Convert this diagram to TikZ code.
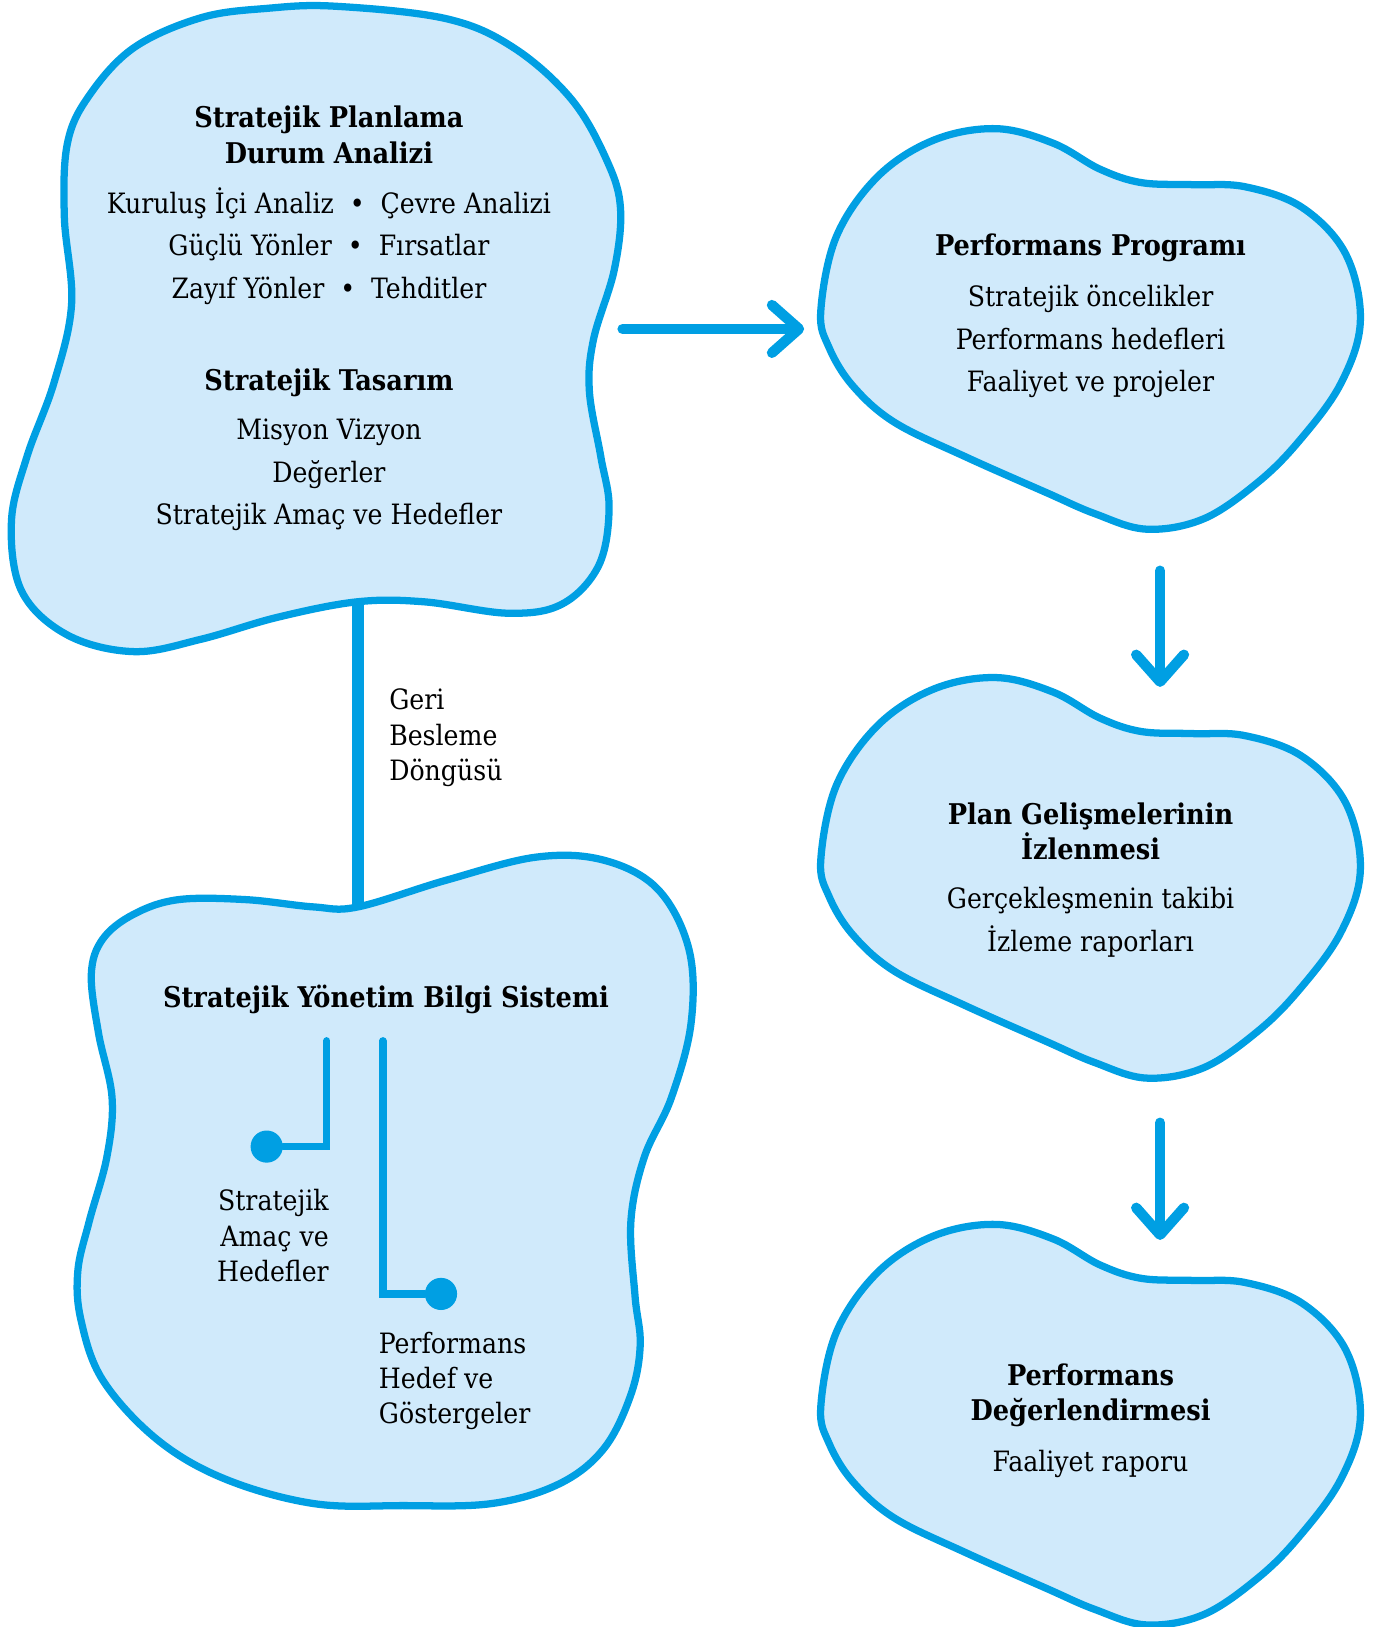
\documentclass[tikz,border=0pt]{standalone}
\usepackage{fontspec}
\setmainfont{DejaVu Serif Condensed}
\usetikzlibrary{arrows.meta}
\definecolor{blobline}{HTML}{009FE3}
\definecolor{blobfill}{HTML}{D0EAFB}
% heart shaped blob of the right column, #1 vertical offset
\newcommand*\heartblob[1]{%
    \draw[blob,shift={(0,#1)}] plot[smooth cycle,tension=0.6] coordinates {%
        (791,300) (806,228) (846,170) (900,135) (960,124) (1015,138)
        (1060,163) (1100,176) (1150,178) (1200,180) (1255,200) (1297,245)
        (1311,310) (1292,370) (1252,425) (1212,465) (1160,500) (1105,510)
        (1055,495) (1009,475) (930,440) (862,407) (822,372) (799,335)%
    };%
}

\begin{document}
\begin{tikzpicture}
    [%
        x=1pt,y=-1pt,%
        blob/.style={%
            draw=blobline,%
            fill=blobfill,%
            line width=7pt%
        },%
        blob title/.style={%
            font=\bfseries\fontsize{27.5}{34}\selectfont,%
            align=center%
        },%
        blob text/.style={%
            font=\fontsize{27}{41}\selectfont,%
            align=center%
        },%
        side text/.style={%
            font=\fontsize{27}{34}\selectfont,%
            inner sep=0pt%
        },%
        flow arrow/.style={%
            draw=blobline,%
            line width=10pt,%
            line cap=round,%
            -{Straight Barb[round,length=26pt,width=46pt]}%
        },%
        link line/.style={%
            draw=blobline,%
            line width=7pt,%
            line cap=round%
        },%
        link dot/.style={%
            circle,%
            fill=blobline,%
            minimum size=31pt,%
            inner sep=0pt%
        }%
    ]%
    \useasboundingbox (0,0) rectangle (1329,1568);
%
    % feedback loop, drawn first so the blobs cover its ends
    \coordinate (plan-south) at (345,560);
    \coordinate (sybs-north) at (345,890);
    \draw[blobline,line width=11pt] (plan-south) -- (sybs-north);
    \node[side text,anchor=west,align=left] (feedback) at (375,711)
        {Geri\\Besleme\\Döngüsü};
%
    % strategic planning blob
    \draw[blob] plot[smooth cycle,tension=0.6] coordinates {%
        (258,8) (323,6) (430,18) (495,46) (551,96) (585,155) (598,201)
        (592,260) (572,327) (568,377) (579,440) (587,490) (577,545)
        (542,582) (490,591) (409,580) (344,580) (267,595) (194,616)
        (129,628) (65,612) (21,570) (11,503) (26,440) (52,369) (69,293)
        (62,209) (65,138) (86,92) (129,46) (194,17)%
    };
    \node[blob title] (plan-title) at (317,130) {Stratejik Planlama\\Durum Analizi};
    \node[blob text] (plan-text) at (317,237)
        {Kuruluş İçi Analiz \ \textbullet\ \ Çevre Analizi\\
         Güçlü Yönler \ \textbullet\ \ Fırsatlar\\
         Zayıf Yönler \ \textbullet\ \ Tehditler};
    \node[blob title] (design-title) at (317,369) {Stratejik Tasarım};
    \node[blob text] (design-text) at (317,458)
        {Misyon Vizyon\\Değerler\\Stratejik Amaç ve Hedefler};
%
    % strategic management information system blob
    \draw[blob] plot[smooth cycle,tension=0.6] coordinates {%
        (99,905) (129,881) (172,867) (237,867) (302,874) (345,874)
        (431,848) (517,826) (582,829) (634,857) (664,915) (666,986)
        (647,1058) (621,1115) (608,1177) (612,1249) (617,1296) (608,1344)
        (582,1396) (539,1430) (474,1449) (388,1451) (302,1449) (216,1425)
        (151,1387) (99,1330) (78,1272) (75,1225) (86,1177) (103,1115)
        (108,1058) (95,996) (88,939)%
    };
    \node[blob title] (sybs-title) at (372,963) {Stratejik Yönetim Bilgi Sistemi};
    \coordinate (goal-top) at (315,1003);
    \coordinate (perf-top) at (369,1003);
    \node[link dot] (goal-dot) at (257,1105) {};
    \node[link dot] (perf-dot) at (425,1247) {};
    \draw[link line] (goal-top) |- (goal-dot);
    \draw[link line] (perf-top) |- (perf-dot);
    \node[side text,anchor=east,align=right] (goal-text) at (317,1191)
        {Stratejik\\Amaç ve\\Hedefler};
    \node[side text,anchor=west,align=left] (perf-text) at (365,1331)
        {Performans\\Hedef ve\\Göstergeler};
%
    % right column blobs
    \foreach \shift in {0,529,1056} {
        \heartblob{\shift}
    }
    \node[blob title] (prog-title) at (1051,239) {Performans Programı};
    \node[blob text] (prog-text) at (1051,329)
        {Stratejik öncelikler\\Performans hedefleri\\Faaliyet ve projeler};
    \node[blob title] (watch-title) at (1051,801) {Plan Gelişmelerinin\\İzlenmesi};
    \node[blob text] (watch-text) at (1051,889)
        {Gerçekleşmenin takibi\\İzleme raporları};
    \node[blob title] (eval-title) at (1051,1345) {Performans\\Değerlendirmesi};
    \node[blob text] (eval-text) at (1051,1411) {Faaliyet raporu};
%
    % flow arrows between the blobs
    \coordinate (plan-east) at (600,317);
    \coordinate (prog-west) at (775,317);
    \coordinate (prog-south) at (1118,550);
    \coordinate (watch-north) at (1118,662);
    \coordinate (watch-south) at (1118,1082);
    \coordinate (eval-north) at (1118,1195);
    \draw[flow arrow] (plan-east) -- (prog-west);
    \draw[flow arrow] (prog-south) -- (watch-north);
    \draw[flow arrow] (watch-south) -- (eval-north);
\end{tikzpicture}
\end{document}
